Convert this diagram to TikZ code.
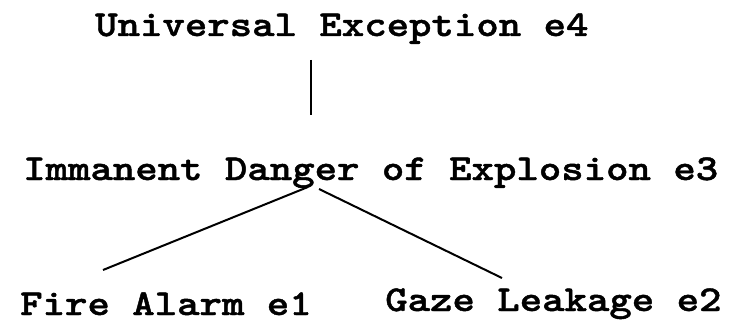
\documentclass[tikz,border=0pt]{standalone}
\usepackage{fontspec}
\newfontfamily\courfont[FakeStretch=1.17,FakeBold=1.2]{lmmonolt10-bold.otf}
\begin{document}
\begin{tikzpicture}[x=1pt,y=1pt,
  lbl/.style={inner sep=0pt, anchor=base west, font=\fontsize{36.5}{40}\selectfont\courfont},
  conn/.style={line width=2pt}]
\useasboundingbox (0,0) rectangle (744,322);
\node[lbl] (e4) at (95,286) {Universal Exception e4};
\node[lbl] (e3) at (23,142) {Immanent Danger of Explosion e3};
\node[lbl] (e1) at (20,7) {Fire Alarm e1};
\node[lbl] (e2) at (385,11) {Gaze Leakage e2};
\coordinate (e4b) at (310.7,262);
\coordinate (e3t) at (310.7,207);
\coordinate (e3l) at (308,135);
\coordinate (e3r) at (319,133);
\coordinate (e1t) at (103,52);
\coordinate (e2t) at (502,44);
\draw[conn] (e4b) -- (e3t);
\draw[conn] (e3l) -- (e1t);
\draw[conn] (e3r) -- (e2t);
\end{tikzpicture}
\end{document}
